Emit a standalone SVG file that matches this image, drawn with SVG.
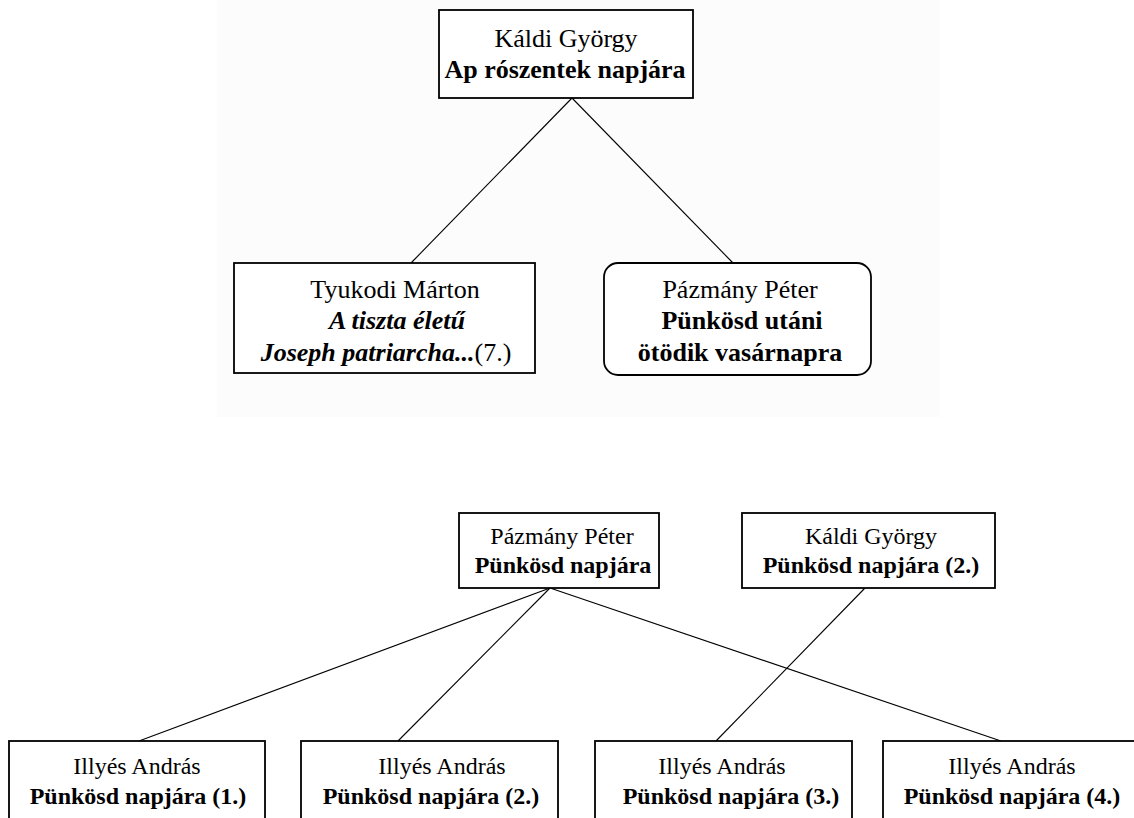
<svg xmlns="http://www.w3.org/2000/svg" width="1134" height="818" viewBox="0 0 1134 818">
<style>
.box{fill:#fff;stroke:#000;stroke-width:1.8}
.t{font-family:"Liberation Serif","Times New Roman",serif;fill:#000;text-anchor:middle}
.big{font-size:26px}
.sm{font-size:24px}
.b{font-weight:bold}
.bi{font-weight:bold;font-style:italic}
.conn line{stroke:#000;stroke-width:1.1}
</style>
<rect x="0" y="0" width="1134" height="818" fill="#fff"/>
<rect x="217" y="0" width="723" height="417" fill="#fcfcfc"/>
<g id="connectors" class="conn">
<line x1="572" y1="98" x2="411" y2="263"/>
<line x1="572" y1="98" x2="733" y2="263"/>
<line x1="550" y1="588" x2="139" y2="741"/>
<line x1="550" y1="588" x2="398" y2="741"/>
<line x1="550" y1="588" x2="1001" y2="741"/>
<line x1="865" y1="588" x2="716" y2="741"/>
</g>
<g id="kaldi-top">
<rect class="box" x="439" y="10" width="254" height="88"/>
<text class="t big" x="566" y="47">Káldi György</text>
<text class="t big b" x="565" y="78">Ap rószentek napjára</text>
</g>
<g id="tyukodi">
<rect class="box" x="234" y="263" width="301" height="110"/>
<text class="t big" x="395" y="298">Tyukodi Márton</text>
<text class="t big bi" x="397" y="329">A tiszta életű</text>
<text class="t big" x="386" y="361"><tspan class="bi">Joseph patriarcha...</tspan>(7.)</text>
</g>
<g id="pazmany-top">
<rect class="box" x="604" y="263" width="267" height="112" rx="14" ry="14"/>
<text class="t big" x="740" y="298">Pázmány Péter</text>
<text class="t big b" x="742" y="329">Pünkösd utáni</text>
<text class="t big b" x="740" y="361">ötödik vasárnapra</text>
</g>
<g id="pazmany-bottom">
<rect class="box" x="459" y="513" width="200" height="75"/>
<text class="t sm" x="562" y="544">Pázmány Péter</text>
<text class="t sm b" x="563" y="573">Pünkösd napjára</text>
</g>
<g id="kaldi-bottom">
<rect class="box" x="742" y="513" width="253" height="75"/>
<text class="t sm" x="871" y="544">Káldi György</text>
<text class="t sm b" x="871" y="573">Pünkösd napjára (2.)</text>
</g>
<g id="illyes-1">
<rect class="box" x="9" y="741" width="256" height="90"/>
<text class="t sm" x="137" y="774">Illyés András</text>
<text class="t sm b" x="138" y="804">Pünkösd napjára (1.)</text>
</g>
<g id="illyes-2">
<rect class="box" x="301" y="741" width="257" height="90"/>
<text class="t sm" x="442" y="774">Illyés András</text>
<text class="t sm b" x="431" y="804">Pünkösd napjára (2.)</text>
</g>
<g id="illyes-3">
<rect class="box" x="595" y="741" width="257" height="90"/>
<text class="t sm" x="722" y="774">Illyés András</text>
<text class="t sm b" x="731" y="804">Pünkösd napjára (3.)</text>
</g>
<g id="illyes-4">
<rect class="box" x="883" y="741" width="260" height="90"/>
<text class="t sm" x="1012" y="774">Illyés András</text>
<text class="t sm b" x="1012" y="804">Pünkösd napjára (4.)</text>
</g>
</svg>
